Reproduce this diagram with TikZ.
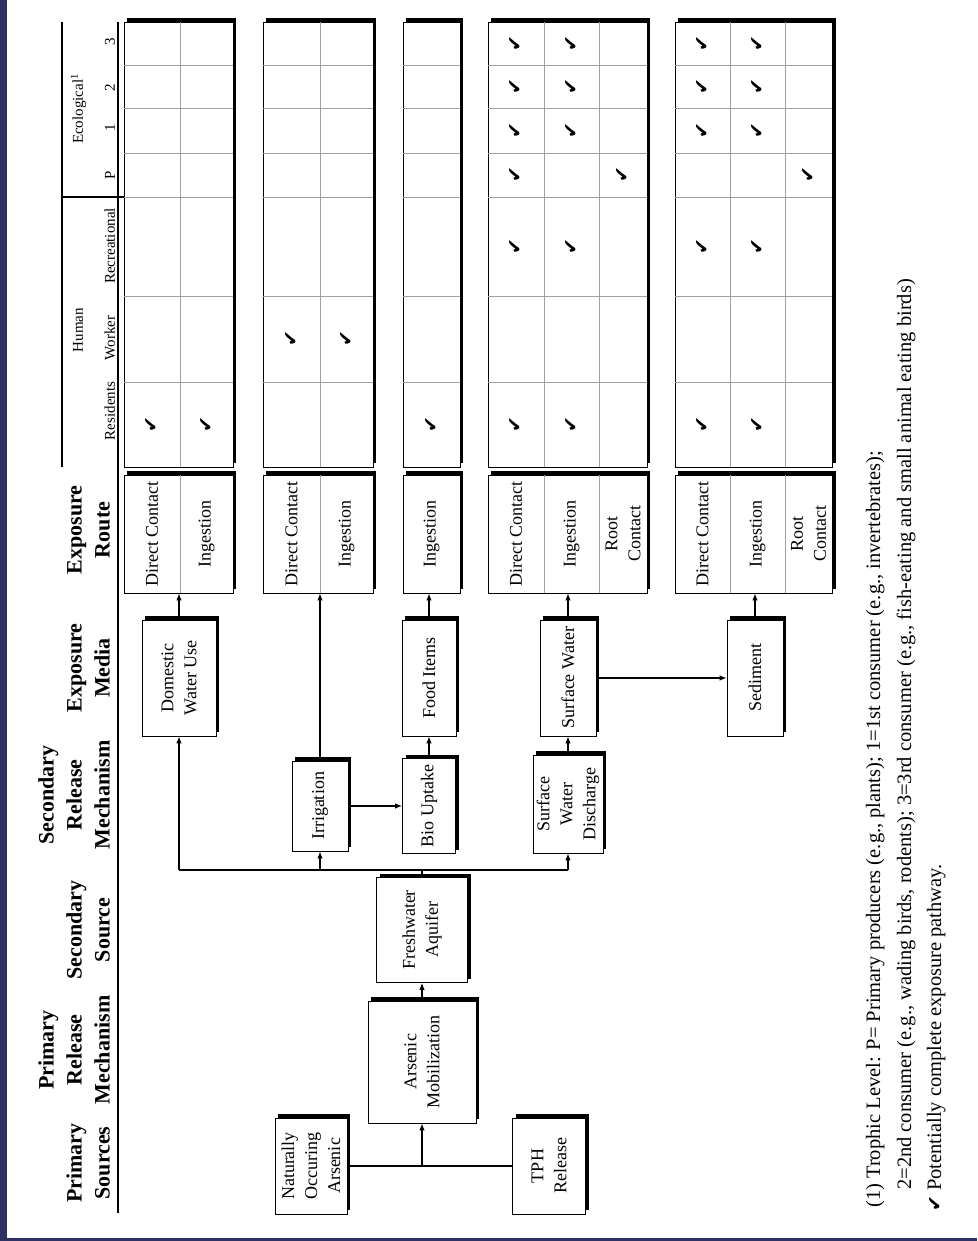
\documentclass[tikz,border=0pt]{standalone}
\usepackage{fontspec}
\setmainfont{Liberation Serif}
\newfontfamily\symfont{DejaVu Sans}
\usetikzlibrary{
    arrows.meta,
    shadows,
    calc
}
\definecolor{edgeNavy}{RGB}{47,48,102}
\newcommand\boxfont{\fontsize{18}{23}\selectfont}
\newcommand\headfont{\fontsize{22}{28}\selectfont\bfseries}
\newcommand\subfont{\fontsize{15}{17}\selectfont}
\newcommand\notefont{\fontsize{20.5}{24}\selectfont}
\newcommand\tickfont{\symfont\fontsize{19}{19}\selectfont}
\tikzset{
  box/.style   = {draw, fill=white, line width=0.8pt, align=center,
                  font=\boxfont, inner sep=1pt,
                  drop shadow={shadow xshift=3.5pt, shadow yshift=3.5pt,
                               fill=black, opacity=1}},
  cell/.style  = {align=center, font=\boxfont, inner sep=0pt},
  head/.style  = {anchor=south, align=center, font=\headfont, inner sep=0pt},
  sub/.style   = {anchor=base, font=\subfont, inner sep=0pt},
  tick/.style  = {font=\tickfont, inner sep=0pt},
  note/.style  = {anchor=base west, font=\notefont, inner sep=0pt},
  rule/.style  = {line width=1.3pt},
  grid/.style  = {gray!75, line width=0.6pt},
  link/.style  = {line width=1.1pt},
  arr/.style   = {-{Latex[length=7pt,width=5.5pt]}, line width=1.1pt}
}

\begin{document}
\begin{tikzpicture}[x=1pt, y=1pt, rotate=90, transform shape]
  % page, drawn landscape and turned
  \useasboundingbox[fill=white] (0,0) rectangle (1241,977);
  \fill[edgeNavy] (0,970) rectangle (1241,977);
  \fill[edgeNavy] (0,0) rectangle (3,977);

  % column heads
  \node[head] (hPS)  at (78,867)  {Primary\\Sources};
  \node[head] (hPRM) at (191,867) {Primary\\Release\\Mechanism};
  \node[head] (hSS)  at (311,867) {Secondary\\Source};
  \node[head] (hSRM) at (446,867) {Secondary\\Release\\Mechanism};
  \node[head] (hEM)  at (573,867) {Exposure\\Media};
  \node[head] (hER)  at (711,867) {Exposure\\Route};

  \node[sub] (hHum) at (911,894)  {Human};
  \node[sub] (hEco) at (1132,894) {Ecological\textsuperscript{1}};
  \node[sub] (hRes) at (830,862)  {Residents};
  \node[sub] (hWrk) at (903,862)  {Worker};
  \node[sub] (hRec) at (995,862)  {Recreational};
  \node[sub] (hP)   at (1066,862) {P};
  \node[sub] (h1)   at (1113,862) {1};
  \node[sub] (h2)   at (1153,862) {2};
  \node[sub] (h3)   at (1199,862) {3};

  \draw[rule] (28,859) -- (1219,859);
  \draw[rule] (774,915) -- (1219,915);
  \draw[rule] (1044,853) -- (1044,915);

  % sources and media
  \node[box, minimum width=96pt,  minimum height=72pt]  (nat)   at (75,666)  {Naturally\\Occuring\\Arsenic};
  \node[box, minimum width=96pt,  minimum height=73pt]  (tph)   at (75,428)  {TPH\\Release};
  \node[box, minimum width=122pt, minimum height=108pt] (ars)   at (179,555) {Arsenic\\Mobilization};
  \node[box, minimum width=105pt, minimum height=91pt]  (fresh) at (311,555) {Freshwater\\Aquifer};
  \node[box, minimum width=90pt,  minimum height=56pt]  (irr)   at (435,657) {Irrigation};
  \node[box, minimum width=95pt,  minimum height=53pt]  (bio)   at (435,548) {Bio Uptake};
  \node[box, minimum width=98pt,  minimum height=70pt]  (swd)   at (437,409) {Surface\\Water\\Discharge};
  \node[box, minimum width=116pt, minimum height=74pt]  (dom)   at (563,798) {Domestic\\Water Use};
  \node[box, minimum width=116pt, minimum height=54pt]  (food)  at (563,548) {Food Items};
  \node[box, minimum width=116pt, minimum height=56pt]  (sw)    at (563,409) {Surface Water};
  \node[box, minimum width=116pt, minimum height=56pt]  (sed)   at (563,222) {Sediment};

  % route and receptor boxes
  \foreach \g/\t/\b in {1/853/744, 2/714/604, 3/574/517, 4/489/330, 5/302/145} {
    \node[box, minimum width=118pt, minimum height={\t-\b}] (rt\g) at (707,{(\t+\b)/2}) {};
    \node[box, minimum width=445pt, minimum height={\t-\b}] (rc\g) at (996.5,{(\t+\b)/2}) {};
  }
  \foreach \t/\b in {853/744, 714/604, 574/517, 489/330, 302/145}
    \foreach \u in {859,945,1044,1088,1133,1176}
      \draw[grid] (\u,\t) -- (\u,\b);
  \foreach \v in {797,657,433,378,247,192}
    \draw[grid] (648,\v) -- (766,\v) (774,\v) -- (1219,\v);

  \node[cell] (dc1)   at (707,825)   {Direct Contact};
  \node[cell] (ing1)  at (707,770.5) {Ingestion};
  \node[cell] (dc2)   at (707,685.5) {Direct Contact};
  \node[cell] (ing2)  at (707,630.5) {Ingestion};
  \node[cell] (ing3)  at (707,545.5) {Ingestion};
  \node[cell] (dc4)   at (707,461)   {Direct Contact};
  \node[cell] (ing4)  at (707,405.5) {Ingestion};
  \node[cell] (root4) at (707,354)   {Root\\Contact};
  \node[cell] (dc5)   at (707,274.5) {Direct Contact};
  \node[cell] (ing5)  at (707,219.5) {Ingestion};
  \node[cell] (root5) at (707,168.5) {Root\\Contact};

  % complete pathways
  \foreach \u/\v [count=\i] in {816.5/825, 816.5/770.5, 902/685.5, 902/630.5,
      816.5/545.5,
      816.5/461, 816.5/405.5, 994.5/461, 994.5/405.5, 1066/461, 1066/354,
      1110.5/461, 1110.5/405.5, 1154.5/461, 1154.5/405.5, 1197.5/461, 1197.5/405.5,
      816.5/274.5, 816.5/219.5, 994.5/274.5, 994.5/219.5, 1066/168.5,
      1110.5/274.5, 1110.5/219.5, 1154.5/274.5, 1154.5/219.5, 1197.5/274.5, 1197.5/219.5}
    \node[tick] (ck\i) at (\u,\v) {✔};

  % connectors
  \coordinate (bus) at (371,555);
  \draw[link] (nat.south) -- (tph.north);
  \draw[arr]  (nat.south |- ars.west) -- (ars.west);
  \draw[arr]  (ars.east) -- (fresh.west);
  \draw[link] (fresh.east) -- (bus);
  \draw[link] (bus |- dom.west) -- (bus |- swd.west);
  \draw[arr]  (bus |- dom.west) -- (dom.west);
  \draw[arr]  (bus |- irr.west) -- (irr.west);
  \draw[arr]  (bus |- swd.west) -- (swd.west);
  \draw[arr]  (irr.south) -- (bio.north);
  \draw[arr]  (irr.east) -- (rt2.west |- irr.east);
  \draw[arr]  (bio.east) -- (food.west);
  \draw[arr]  (swd.east) -- (sw.west);
  \draw[arr]  (sw.south) -- (sed.north);
  \draw[arr]  (dom.east) -- (rt1.west |- dom.east);
  \draw[arr]  (food.east) -- (rt3.west |- food.east);
  \draw[arr]  (sw.east) -- (rt4.west |- sw.east);
  \draw[arr]  (sed.east) -- (rt5.west |- sed.east);

  % footnote
  \node[note] (note1) at (33,97) {(1) Trophic Level: P= Primary producers (e.g., plants); 1=1st consumer (e.g., invertebrates);};
  \node[note] (note2) at (51,66) {2=2nd consumer (e.g., wading birds, rodents); 3=3rd consumer (e.g., fish-eating and small animal eating birds)};
  \node[note] (note3) at (29,36) {{\tickfont ✔} Potentially complete exposure pathway.};
\end{tikzpicture}
\end{document}
